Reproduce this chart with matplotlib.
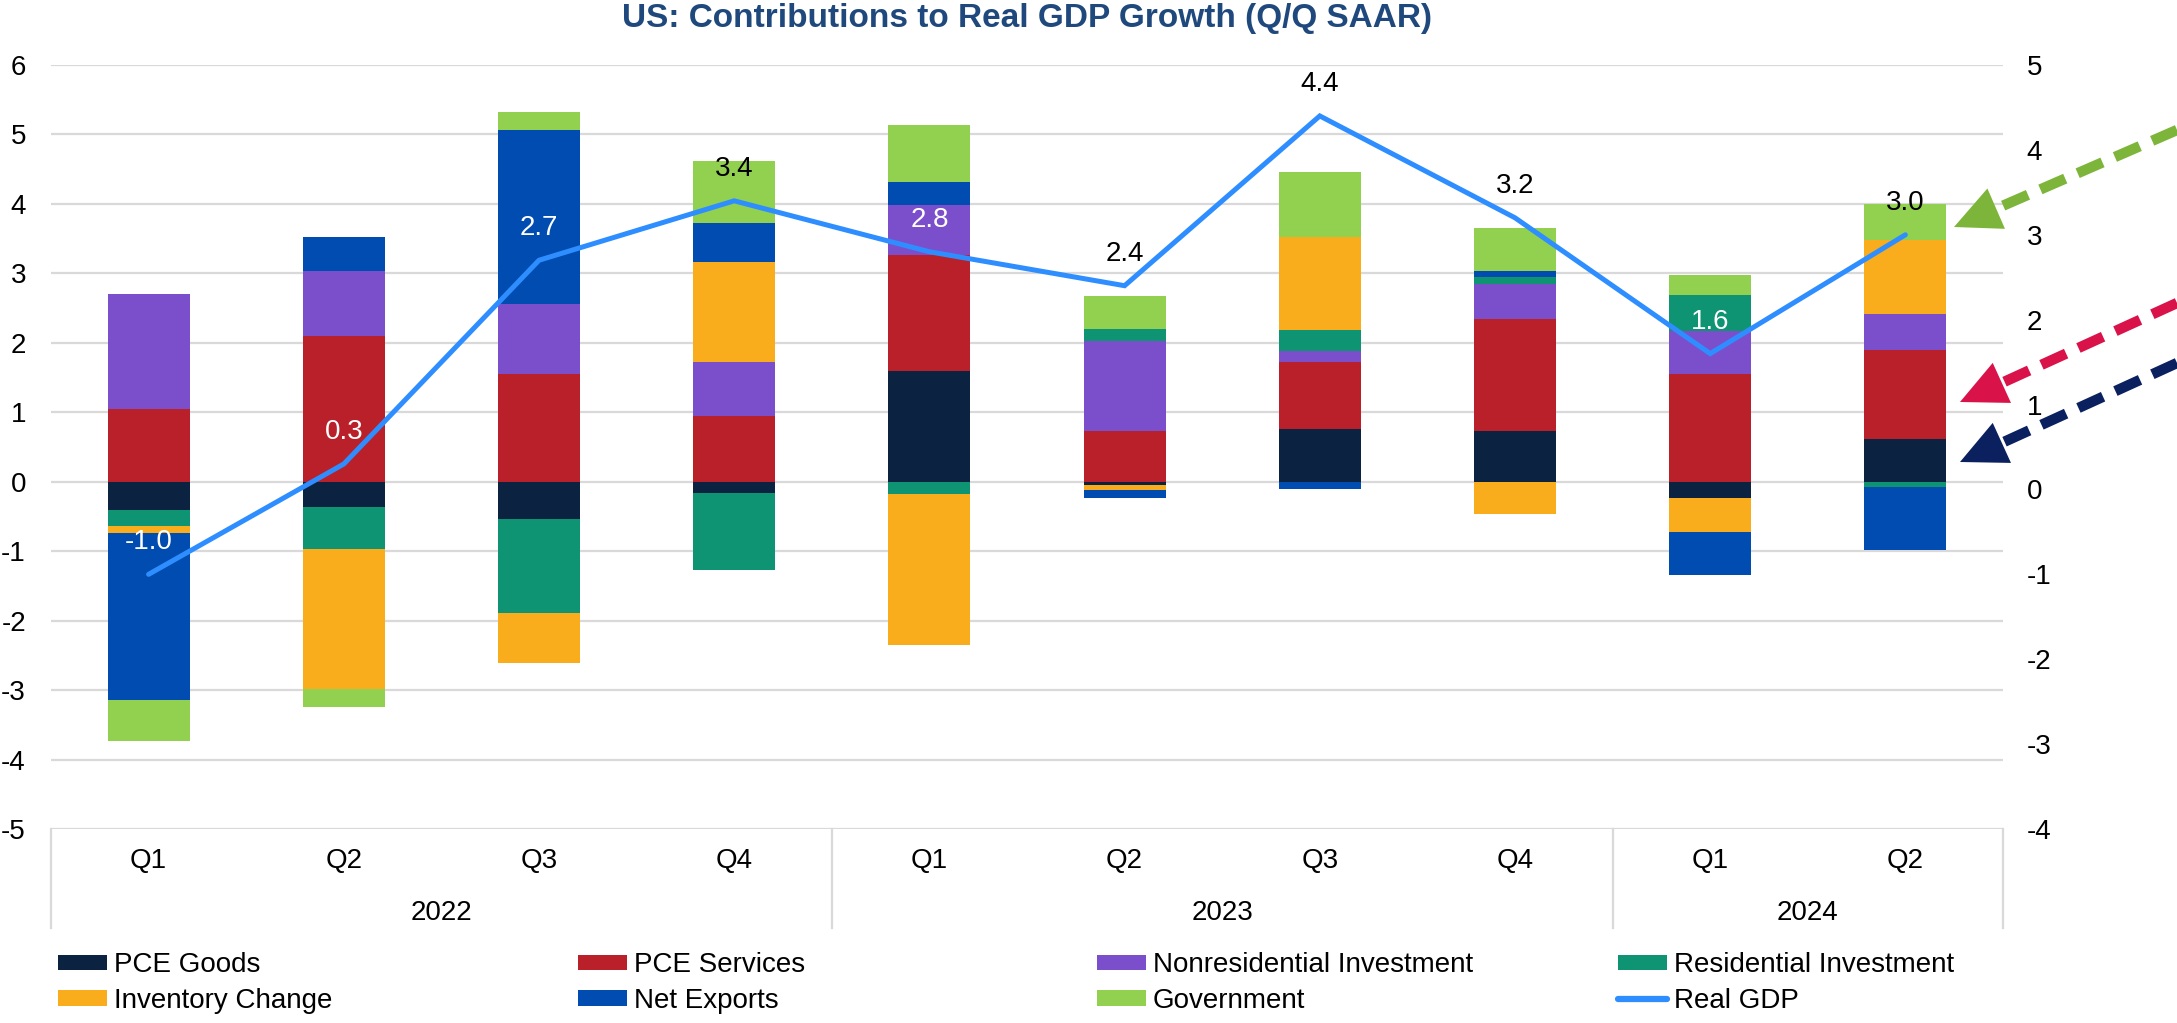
import matplotlib
matplotlib.use("Agg")
import matplotlib.pyplot as plt
import matplotlib.transforms as mtransforms
from matplotlib.lines import Line2D
from matplotlib.patches import Patch, Polygon
import numpy as np

plt.rcParams['font.family'] = ['Liberation Sans', 'DejaVu Sans']
plt.rcParams['axes.unicode_minus'] = False

# ---------------- data ----------------
quarters = ["Q1", "Q2", "Q3", "Q4", "Q1", "Q2", "Q3", "Q4", "Q1", "Q2"]
years = ["2022", "2023", "2024"]
year_counts = [4, 4, 2]

pce_goods = [-0.41, -0.37, -0.53, -0.16, 1.59, -0.05, 0.76, 0.73, -0.24, 0.62]
pce_services = [1.05, 2.10, 1.55, 0.95, 1.67, 0.73, 0.96, 1.61, 1.55, 1.27]
nonres_inv = [1.66, 0.94, 1.01, 0.77, 0.72, 1.30, 0.16, 0.51, 0.62, 0.53]
res_inv = [-0.23, -0.60, -1.36, -1.11, -0.18, 0.17, 0.30, 0.10, 0.52, -0.07]
inventory = [-0.10, -2.02, -0.72, 1.44, -2.17, -0.07, 1.34, -0.46, -0.49, 1.06]
net_exports = [-2.40, 0.49, 2.50, 0.56, 0.33, -0.11, -0.10, 0.09, -0.62, -0.91]
government = [-0.60, -0.25, 0.26, 0.90, 0.83, 0.48, 0.94, 0.61, 0.29, 0.52]
real_gdp = [-1.0, 0.3, 2.7, 3.4, 2.8, 2.4, 4.4, 3.2, 1.6, 3.0]

series_names = ["PCE Goods", "PCE Services", "Nonresidential Investment",
                "Residential Investment", "Inventory Change", "Net Exports",
                "Government"]
series_vals = [pce_goods, pce_services, nonres_inv, res_inv, inventory,
               net_exports, government]
series_colors = ["#0B2341", "#BA2029", "#7B4FCB", "#0E9472", "#F9AC1C",
                 "#004CB0", "#92D050"]
gdp_color = "#2E8EFF"
gdp_label_colors = ["white", "white", "white", "black", "white",
                    "black", "black", "black", "white", "black"]

# ---------------- figure ----------------
W, H = 2177, 1023
fig = plt.figure(figsize=(W / 100, H / 100), dpi=100)
ax_l, ax_r, ax_t, ax_b = 51, 2003, 65, 829
ax = fig.add_axes([ax_l / W, 1 - ax_b / H, (ax_r - ax_l) / W, (ax_b - ax_t) / H])

x = np.arange(len(quarters))
pos_bottom = np.zeros(len(x))
neg_bottom = np.zeros(len(x))
for name, vals, col in zip(series_names, series_vals, series_colors):
    v = np.array(vals)
    bottoms = np.where(v >= 0, pos_bottom, neg_bottom)
    ax.bar(x, v, width=0.42, bottom=bottoms, color=col, zorder=2, linewidth=0)
    pos_bottom += np.where(v >= 0, v, 0)
    neg_bottom += np.where(v < 0, v, 0)

ax.set_xlim(-0.5, len(x) - 0.5)
ax.set_ylim(-5, 6)
ax.set_yticks(range(-5, 7))
ax.yaxis.grid(True, color="#D9D9D9", linewidth=1.6)
ax.set_axisbelow(True)
for s in ax.spines.values():
    s.set_visible(False)
ax.tick_params(axis="y", length=0, pad=18, labelsize=20, labelcolor="black")
ax.set_xticks(x)
ax.set_xticklabels(quarters)
ax.tick_params(axis="x", length=0, pad=14, labelsize=20, labelcolor="black")

# secondary axis with Real GDP line
ax2 = ax.twinx()
ax2.set_ylim(-4, 5)
ax2.set_yticks(range(-4, 6))
for s in ax2.spines.values():
    s.set_visible(False)
ax2.tick_params(axis="y", length=0, pad=17, labelsize=20, labelcolor="black")
ax2.plot(x, real_gdp, color=gdp_color, linewidth=3.6, solid_capstyle="round",
         solid_joinstyle="miter", zorder=3)
for xi, v, c in zip(x, real_gdp, gdp_label_colors):
    ax2.annotate(f"{v:.1f}", (xi, v), xytext=(0, 23), textcoords="offset points",
                 ha="center", va="center", fontsize=20, color=c, zorder=4)

# two-level category axis: year labels and separators
trans = mtransforms.blended_transform_factory(ax.transData, fig.transFigure)
start = 0
bounds = [-0.5]
for yr, n in zip(years, year_counts):
    centre = start + (n - 1) / 2
    ax.text(centre, 1 - 913 / H, yr, transform=trans, ha="center", va="center",
            fontsize=20, color="black")
    start += n
    bounds.append(start - 0.5)
for b in bounds:
    ax.add_line(Line2D([b, b], [1 - ax_b / H, 1 - 928 / H], transform=trans,
                       color="#D9D9D9", linewidth=1.6, clip_on=False))

# title
fig.text((ax_l + ax_r) / 2 / W, 1 - 19 / H,
         "US: Contributions to Real GDP Growth (Q/Q SAAR)",
         ha="center", va="center", fontsize=24, fontweight="bold", color="#1F497D")

# legend: four columns of two entries
handles = [Patch(facecolor=c, edgecolor="none") for c in series_colors]
handles.append(Line2D([0], [0], color=gdp_color, linewidth=4.5, solid_capstyle="round"))
labels = series_names + ["Real GDP"]
columns = [[0, 4], [1, 5], [2, 6], [3, 7]]
col_x = [58, 578, 1097, 1618]
for cx, idx in zip(col_x, columns):
    fig.legend([handles[i] for i in idx], [labels[i] for i in idx],
               loc="center left", bbox_to_anchor=(cx / W, 1 - 983 / H),
               frameon=False, borderpad=0, borderaxespad=0, fontsize=20,
               handlelength=1.76, handleheight=0.5, handletextpad=0.25,
               labelspacing=0.33)

# dashed pointer arrows on the right
def dashed_arrow(tail, tip, color):
    tx, ty = tail
    px, py = tip
    d = np.array([px - tx, py - ty], dtype=float)
    u = d / np.linalg.norm(d)
    nrm = np.array([-u[1], u[0]])
    head_len, head_half = 46, 22
    base = np.array([px, py]) - head_len * u
    line_end = base + 4 * u
    to_fig = lambda p: (p[0] / W, 1 - p[1] / H)
    (x0, y0), (x1, y1) = to_fig((tx, ty)), to_fig(line_end)
    ln = Line2D([x0, x1], [y0, y1], transform=fig.transFigure, color=color,
                linewidth=7.5, linestyle=(0, (2.6, 1.3)), solid_capstyle="butt",
                dash_capstyle="butt")
    fig.add_artist(ln)
    pts = [to_fig((px, py)), to_fig(base + head_half * nrm), to_fig(base - head_half * nrm)]
    fig.add_artist(Polygon(pts, closed=True, transform=fig.transFigure,
                           facecolor=color, edgecolor="none"))

dashed_arrow((2177, 130), (1954, 227), "#7DB53A")
dashed_arrow((2177, 303), (1960, 402), "#D9134A")
dashed_arrow((2177, 363), (1960, 462), "#0B215F")

fig.savefig("out.png", dpi=100)
